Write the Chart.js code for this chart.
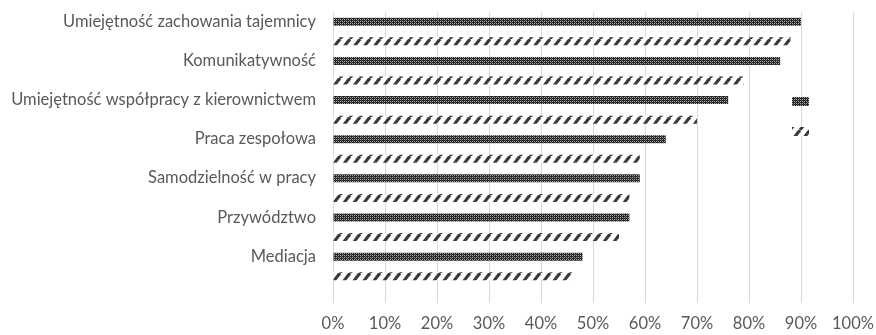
<!DOCTYPE html>
<html>
<head>
<meta charset="utf-8">
<script src="https://cdn.jsdelivr.net/npm/chart.js@4.4.0/dist/chart.umd.min.js"></script>
<style>
    html, body { margin: 0; padding: 0; background: #fff; }
</style>
</head>
<body>
<canvas id="chart" width="876" height="335"></canvas>
<script>
const categories = [
    "Umiejętność zachowania tajemnicy",
    "Komunikatywność",
    "Umiejętność współpracy z kierownictwem",
    "Praca zespołowa",
    "Samodzielność w pracy",
    "Przywództwo",
    "Mediacja"
];
const seriesA = [90, 86, 76, 64, 59, 57, 48];
const seriesB = [88, 79, 70, 59, 57, 55, 46];
const tickLabels = ["0%", "10%", "20%", "30%", "40%", "50%", "60%", "70%", "80%", "90%", "100%"];

const textColor = "#595959";
const gridColor = "#d9d9d9";
const fontFamily = "Lato, 'Open Sans', sans-serif";

// dark checkered fill
function checkPattern() {
    let c = document.createElement("canvas");
    c.width = 4; c.height = 4;
    let g = c.getContext("2d");
    g.fillStyle = "#232323";
    g.fillRect(0, 0, 4, 4);
    g.fillStyle = "#a8a8a8";
    [[0, 1], [2, 3], [2, 1], [0, 3]].forEach(p => g.fillRect(p[0], p[1], 1, 1));
    g.fillStyle = "#606060";
    [[1, 0], [3, 2]].forEach(p => g.fillRect(p[0], p[1], 1, 1));
    return g.createPattern(c, "repeat");
}

// wide upward diagonal stripes
function stripePattern() {
    let c = document.createElement("canvas");
    c.width = 10; c.height = 13;
    let g = c.getContext("2d");
    g.fillStyle = "#ffffff";
    g.fillRect(0, 0, 10, 13);
    g.strokeStyle = "#3a3a3a";
    g.lineWidth = 3.2;
    [-10, 0, 10].forEach(dx => {
        g.beginPath();
        g.moveTo(dx, 13);
        g.lineTo(dx + 10, 0);
        g.stroke();
    });
    return g.createPattern(c, "repeat");
}

// legend boxes without text, sitting inside the plot on the right
const swatches = {
    id: "swatches",
    afterDatasetsDraw(chart) {
        let { ctx, chartArea } = chart;
        ctx.save();
        chart.data.datasets.forEach((ds, i) => {
            ctx.fillStyle = ds.backgroundColor;
            ctx.fillRect(chartArea.right - 61, chartArea.top + 85 + i * 30, 17, 9);
        });
        ctx.restore();
    }
};

let chart = new Chart(document.getElementById("chart"), {
    type: "bar",
    data: {
        labels: categories,
        datasets: [
            { label: "", data: seriesA, backgroundColor: checkPattern() },
            { label: "", data: seriesB, backgroundColor: stripePattern() }
        ]
    },
    options: {
        indexAxis: "y",
        responsive: false,
        animation: false,
        categoryPercentage: 1,
        barPercentage: 0.41,
        layout: { padding: { top: 12, right: 23, bottom: 0, left: 0 } },
        plugins: {
            legend: { display: false },
            tooltip: { enabled: false }
        },
        scales: {
            x: {
                min: 0,
                max: 100,
                border: { display: false },
                grid: { color: gridColor, lineWidth: 1, tickLength: 17, tickColor: gridColor },
                ticks: {
                    stepSize: 10,
                    padding: 11,
                    color: textColor,
                    font: { family: fontFamily, size: 16.5 },
                    maxRotation: 0,
                    callback: (v, i) => tickLabels[i]
                },
                afterFit: s => {
                    s.height = 49;
                    s.paddingLeft = 0;
                    s.paddingRight = 0;
                }
            },
            y: {
                border: { display: false },
                grid: { display: false, drawTicks: false },
                ticks: {
                    padding: 17,
                    labelOffset: -10,
                    color: textColor,
                    font: { family: fontFamily, size: 16.5 }
                },
                afterFit: s => {
                    s.width = 333;
                    s.paddingTop = 0;
                    s.paddingBottom = 0;
                }
            }
        }
    },
    plugins: [swatches]
});
</script>
</body>
</html>
